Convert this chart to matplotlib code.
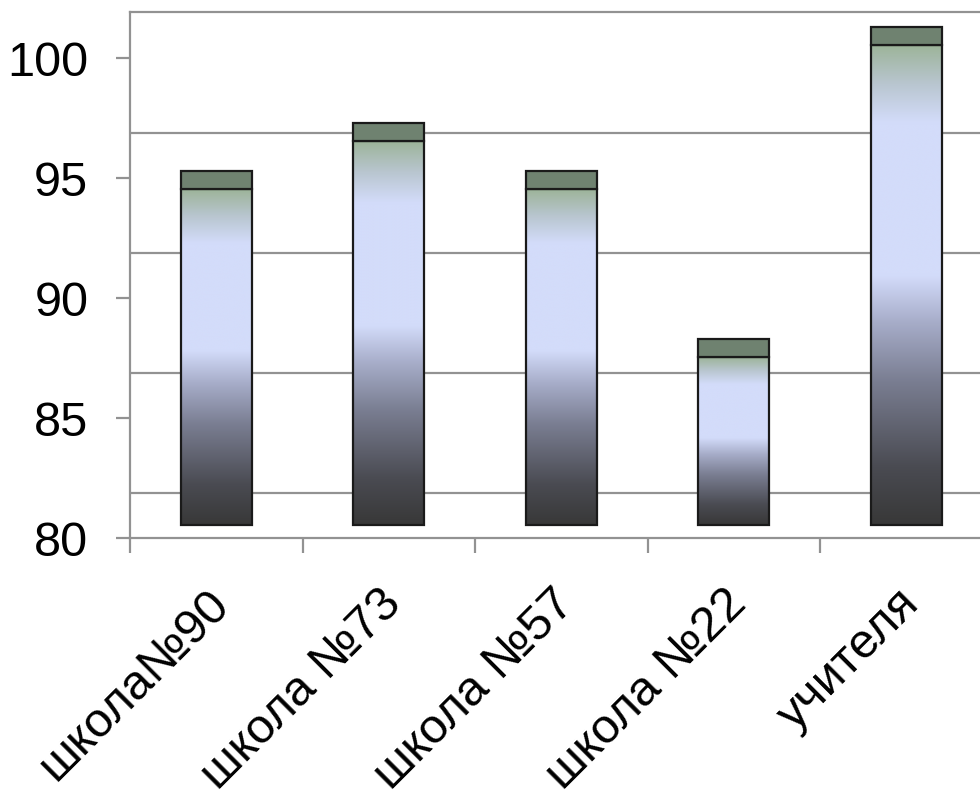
import numpy as np
import matplotlib.pyplot as plt
from matplotlib.colors import LinearSegmentedColormap
from matplotlib.patches import Rectangle
from matplotlib.transforms import ScaledTranslation

plt.rcParams['font.family'] = ['Liberation Sans', 'DejaVu Sans']

categories = ["школа№90", "школа №73", "школа №57", "школа №22", "учителя"]
values = [94, 96, 94, 87, 100]
yticks = [80, 85, 90, 95, 100]

# pseudo-3D look (in data units)
front = 0.54   # bar front face lifted above the floor edge
cap = 0.75     # visible top face of the bar
wall = 1.875   # back wall offset
bar_w = 0.41

cmap = LinearSegmentedColormap.from_list("bar", [
    (0.00, "#383838"), (0.12, "#4a4b52"), (0.30, "#7a7e92"),
    (0.42, "#a6acc8"), (0.52, "#d3dcfa"), (0.84, "#d3dcfa"),
    (0.92, "#b9c6d0"), (1.00, "#9db49a")])
grad = np.linspace(0, 1, 256).reshape(-1, 1)

fig = plt.figure(figsize=(9.8, 7.97), dpi=100)
ax = fig.add_axes([130 / 980, (797 - 538) / 797, 862.5 / 980, 526 / 797])

gray = "#929292"
for t in yticks[:-1]:
    ax.axhline(t + wall, color=gray, lw=1.6, zorder=1)

for i, v in enumerate(values):
    x0 = i + 0.5 - bar_w / 2
    y0, y1 = 80 + front, v + front
    ax.imshow(grad, extent=(x0, x0 + bar_w, y0, y1), origin="lower",
              cmap=cmap, aspect="auto", zorder=2, interpolation="bicubic")
    ax.add_patch(Rectangle((x0, y0), bar_w, y1 - y0, fill=False,
                           ec="#1a1a1a", lw=1.6, zorder=3))
    ax.add_patch(Rectangle((x0, y1), bar_w, cap, fc="#6f8270",
                           ec="#1a1a1a", lw=1.6, zorder=3))

ax.set_xlim(0, 5)
ax.set_ylim(80, 80 + 526 / 24)

for s in ["left", "bottom", "top"]:
    ax.spines[s].set_color(gray)
    ax.spines[s].set_linewidth(1.6)
ax.spines["right"].set_visible(False)

ax.set_yticks(yticks)
ax.set_yticklabels([str(t) for t in yticks], fontsize=35)
ax.tick_params(axis="y", length=10, width=1.6, color=gray, pad=20)

ax.set_xticks(range(6))
ax.set_xticklabels([])
ax.tick_params(axis="x", which="major", length=11, width=1.6, color=gray)
ax.set_xticks(np.arange(5) + 0.5, minor=True)
ax.set_xticklabels(categories, minor=True, fontsize=35, rotation=45,
                   ha="right", rotation_mode="default")
ax.tick_params(axis="x", which="minor", length=0, pad=34)
shift = ScaledTranslation(0.22, 0.04, fig.dpi_scale_trans)
for lab in ax.get_xticklabels(minor=True):
    lab.set_transform(lab.get_transform() + shift)

fig.savefig("out.png", dpi=100)
